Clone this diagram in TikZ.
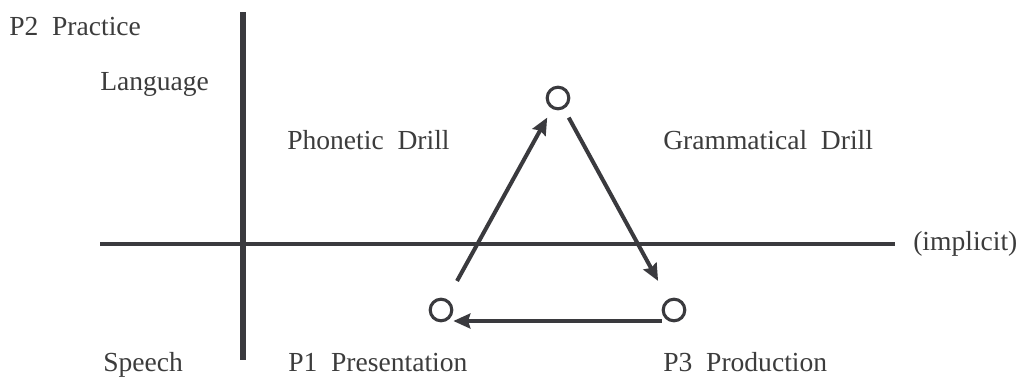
\documentclass[tikz,border=0pt]{standalone}
\usepackage{fontspec}
\setmainfont{Liberation Serif}
\usetikzlibrary{arrows.meta}
\definecolor{ink}{HTML}{3A3A3E}
\definecolor{txt}{HTML}{3C3C3C}

\begin{document}
\begin{tikzpicture}[x=0.025cm, y=-0.025cm,
    tag/.style={anchor=base west, inner sep=0pt, text=txt, font=\fontsize{19.6}{23}\selectfont},
    axis/.style={draw=ink, line width=#1},
    stage/.style={circle, draw=ink, line width=2.2pt, inner sep=0pt, minimum size=0.54cm},
    flow/.style={draw=ink, line width=2.85pt, -{Stealth[length=12pt, width=10.5pt, inset=1.5pt]}}]
        % --- Frame ---
        \useasboundingbox (0,0) rectangle (1017,376);
        % --- Axes ---
        \draw[axis=4.3pt] (243,12) -- (243,360);
        \draw[axis=2.85pt] (100,244) -- (895,244);
        % --- Labels ---
        \node[tag] (practice) at (9,35) {P2\enspace Practice};
        \node[tag] (language) at (100,90) {Language};
        \node[tag] (phonetic) at (287,149) {Phonetic\enspace Drill};
        \node[tag] (grammar) at (663,149) {Grammatical\enspace Drill};
        \node[tag] (implicit) at (913,250) {(implicit)};
        \node[tag] (speech) at (103,371) {Speech};
        \node[tag] (presentation) at (288,371) {P1\enspace Presentation};
        \node[tag] (production) at (663,371) {P3\enspace Production};
        % --- Cycle ---
        \node[stage] (p1) at (441,310) {};
        \node[stage] (p2) at (558,98) {};
        \node[stage] (p3) at (674,310) {};
        \draw[flow, shorten <=0.52cm, shorten >=0.25cm] (p1) -- (p2);
        \draw[flow, shorten <=0.25cm, shorten >=0.52cm] (p2) -- (p3);
        \draw[flow] ([yshift=-0.275cm]p3.west) -- ([yshift=-0.275cm]p1.east);
\end{tikzpicture}
\end{document}
